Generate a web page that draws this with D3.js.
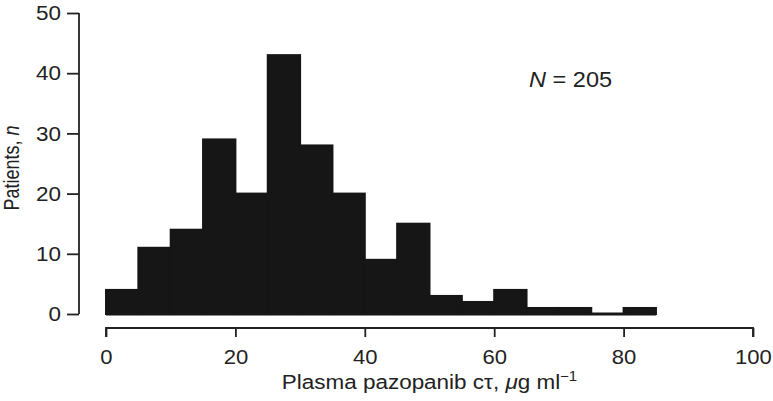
<!DOCTYPE html>
<html>
<head>
<meta charset="utf-8">
<script src="https://cdn.jsdelivr.net/npm/d3@7"></script>
<style>
  body { margin: 0; background: #fff; }
  text { font-family: "Liberation Sans", Arial, sans-serif; fill: #222; }
</style>
</head>
<body>
<svg id="chart" width="773" height="401"></svg>
<script>
// histogram of plasma pazopanib trough, bins of 5 ug/ml
var binStarts = [0, 5, 10, 15, 20, 25, 30, 35, 40, 45, 50, 55, 60, 65, 70, 75, 80]
var counts    = [4, 11, 14, 29, 20, 43, 28, 20, 9, 15, 3, 2, 4, 1, 1, 0, 1]
var binWidth = 5
var xTicks = [0, 20, 40, 60, 80, 100]
var yTicks = [0, 10, 20, 30, 40, 50]

// the original figure is a bit stretched sideways
var stretch = 1.07

var svg = d3.select("#chart")

var x = d3.scaleLinear().domain([0, 100]).range([106, 753])
var y = d3.scaleLinear().domain([0, 50]).range([314, 13])

// bars (same fill and stroke so they merge into one silhouette)
svg.selectAll("rect.bar")
  .data(binStarts)
  .enter()
  .append("rect")
  .attr("class", "bar")
  .attr("x", function(d) { return x(d) })
  .attr("width", function(d) { return x(d + binWidth) - x(d) })
  .attr("y", function(d, i) { return y(counts[i]) })
  .attr("height", function(d, i) { return y(0) - y(counts[i]) })
  .attr("fill", "#161616")
  .attr("stroke", "#161616")
  .attr("stroke-width", 2)

// outline along the base, shows empty bins as a thin line
svg.append("line")
  .attr("x1", x(binStarts[0]))
  .attr("x2", x(binStarts[binStarts.length - 1] + binWidth))
  .attr("y1", y(0))
  .attr("y2", y(0))
  .attr("stroke", "#161616")
  .attr("stroke-width", 3)

// y axis
var yAxis = svg.append("g")
  .attr("transform", "translate(79,0)")
  .call(d3.axisLeft(y).tickValues(yTicks).tickSize(12).tickPadding(6))
yAxis.select(".domain").attr("stroke", "#222").attr("stroke-width", 1.8)
  .attr("d", "M0," + y(50) + "V" + y(0))
yAxis.selectAll(".tick line").attr("stroke", "#222").attr("stroke-width", 1.8)
yAxis.selectAll(".tick text")
  .style("font-size", "21px")
  .attr("fill", "#222")
  .attr("x", -18 / stretch)
  .attr("transform", "scale(" + stretch + ",1)")

// x axis
var xAxis = svg.append("g")
  .attr("transform", "translate(0,328)")
  .call(d3.axisBottom(x).tickValues(xTicks).tickSize(9).tickPadding(12))
xAxis.select(".domain").attr("stroke", "#222").attr("stroke-width", 1.8)
  .attr("d", "M" + x(0) + ",9V0H" + x(100) + "V9")
xAxis.selectAll(".tick line").attr("stroke", "#222").attr("stroke-width", 1.8)
xAxis.selectAll(".tick text")
  .style("font-size", "21px")
  .attr("fill", "#222")
  .attr("transform", "scale(1.05,1)")

// axis titles
var yTitle = svg.append("text")
  .attr("transform", "translate(19,168) scale(1.2,1) rotate(-90)")
  .attr("text-anchor", "middle")
  .style("font-size", "18px")
yTitle.append("tspan").text("Patients, ")
yTitle.append("tspan").style("font-style", "italic").text("n")

var xTitle = svg.append("text")
  .attr("transform", "translate(" + x(50) + ",389) scale(1.07,1)")
  .attr("text-anchor", "middle")
  .style("font-size", "21px")
xTitle.append("tspan").text("Plasma pazopanib cτ, ")
xTitle.append("tspan").style("font-style", "italic").text("μ")
xTitle.append("tspan").text("g ml")
xTitle.append("tspan").attr("dy", -8).style("font-size", "14px").text("−1")

// N label
var nLabel = svg.append("text")
  .attr("transform", "translate(529,87) scale(1.07,1)")
  .style("font-size", "22px")
nLabel.append("tspan").style("font-style", "italic").text("N")
nLabel.append("tspan").text(" = 205")
</script>
</body>
</html>
